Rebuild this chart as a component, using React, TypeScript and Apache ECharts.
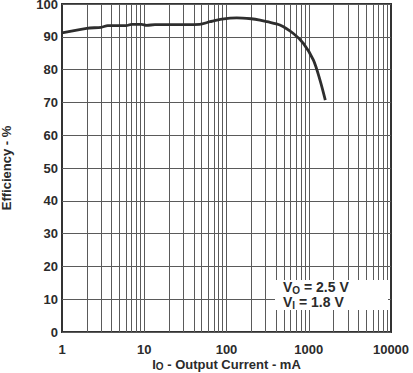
import React, { useEffect, useRef } from "react";
import * as echarts from "echarts";

const currentMA = [1, 2, 3, 3.6, 6, 7, 9.3, 10.7, 13.5, 20, 47, 63, 88, 133, 200, 255, 310, 446, 650, 860, 1140, 1370, 1590];
const efficiency = [91.2, 92.6, 92.9, 93.4, 93.4, 93.8, 93.8, 93.5, 93.7, 93.7, 93.8, 94.6, 95.4, 95.8, 95.5, 95.1, 94.6, 93.6, 91, 88, 82.9, 76.8, 70.7];
const xTickLabels = ["1", "10", "100", "1000", "10000"];
const decades = [1, 10, 100, 1000];
const minorSteps = [2, 3, 4, 5, 6, 7, 8, 9];
const noteLines = [
  ["V", "O", " = 2.5 V"],
  ["V", "I", " = 1.8 V"],
];

const FONT = "'Liberation Sans', Arial, sans-serif";
const TXT = "#2b2b2b";
const GRID = "#5a5a5a";

export default function App() {
  const ref = useRef<HTMLDivElement>(null);
  useEffect(() => {
    if (!ref.current) return;
    const chart = echarts.init(ref.current, undefined, { renderer: "svg" });
    const gridValues: number[] = [];
    decades.forEach((d) => {
      minorSteps.forEach((m) => gridValues.push(d * m));
      if (d > 1) gridValues.push(d);
    });
    const data = currentMA.map((c, i) => [c, efficiency[i]]);
    const noteRich = {
      b: { fontFamily: FONT, fontWeight: "bold", fontSize: 14, fill: TXT, lineHeight: 14 },
      s: { fontFamily: FONT, fontWeight: "bold", fontSize: 10, fill: TXT, lineHeight: 10, padding: [6, 0, 0, 0] },
    };
    chart.setOption({
      animation: false,
      grid: {
        left: 62,
        right: 22,
        top: 4,
        bottom: 41,
        outerBoundsMode: "none",
        containLabel: false,
        show: true,
        borderColor: "#333",
        borderWidth: 2,
        backgroundColor: "transparent",
      },
      xAxis: {
        type: "log",
        logBase: 10,
        min: 1,
        max: 10000,
        axisLine: { show: false },
        axisTick: { show: false },
        splitLine: { show: false },
        axisLabel: {
          color: TXT,
          fontFamily: FONT,
          fontWeight: "bold",
          fontSize: 13,
          margin: 11,
          formatter: (v: number) => {
            const idx = Math.round(Math.log10(v));
            return xTickLabels[idx] ?? String(v);
          },
        },
        name: "{b|I}{s|O}{b| - Output Current - mA}",
        nameLocation: "middle",
        nameGap: 26,
        nameMoveOverlap: false,
        nameTextStyle: {
          rich: {
            b: { fontFamily: FONT, fontWeight: "bold", fontSize: 13, color: TXT, lineHeight: 13 },
            s: { fontFamily: FONT, fontWeight: "bold", fontSize: 10, color: TXT, lineHeight: 10, padding: [4, 0, 0, 0] },
          },
        },
      },
      yAxis: {
        type: "value",
        min: 0,
        max: 100,
        interval: 10,
        axisLine: { show: false },
        axisTick: { show: false },
        splitLine: { show: true, lineStyle: { color: GRID, width: 1 } },
        axisLabel: {
          color: TXT,
          fontFamily: FONT,
          fontWeight: "bold",
          fontSize: 13,
          lineHeight: 8,
          margin: 4,
        },
        name: "Efficiency - %",
        nameLocation: "middle",
        nameGap: 49,
        nameMoveOverlap: false,
        nameTextStyle: { color: TXT, fontFamily: FONT, fontWeight: "bold", fontSize: 13 },
      },
      series: [
        {
          type: "line",
          data,
          smooth: 0.3,
          showSymbol: false,
          lineStyle: { color: "#2e2e2e", width: 2.8 },
          z: 5,
          markLine: {
            silent: true,
            symbol: "none",
            label: { show: false },
            lineStyle: { color: GRID, width: 1, type: "solid" },
            data: gridValues.map((v) => ({ xAxis: v })),
            z: 1,
          },
        },
      ],
      graphic: [
        {
          type: "group",
          z: 100,
          children: [
            {
              type: "rect",
              shape: { x: 275, y: 280, width: 113, height: 30 },
              style: { fill: "#fff" },
              z: 100,
            },
            ...noteLines.map((l, i) => ({
              type: "text",
              x: 283,
              y: 280 + i * 15,
              z: 101,
              style: {
                text: `{b|${l[0]}}{s|${l[1]}}{b|${l[2]}}`,
                rich: noteRich,
              },
            })),
          ],
        },
      ],
    });
    return () => chart.dispose();
  }, []);
  return <div ref={ref} style={{ width: 413, height: 373, position: "absolute", left: 0, top: 0 }} />;
}
